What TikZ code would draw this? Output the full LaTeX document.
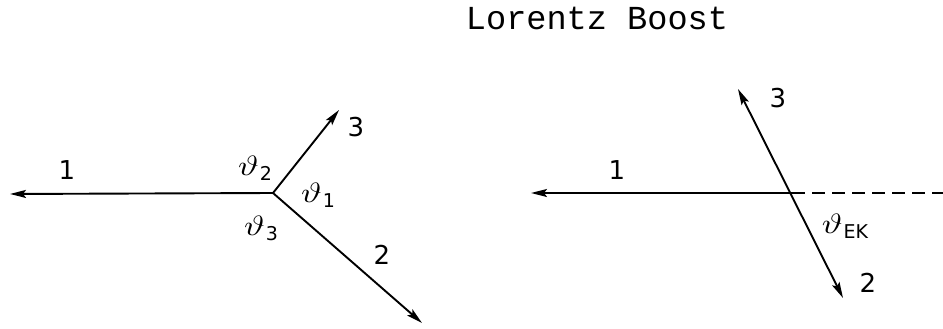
\documentclass[tikz,border=0pt]{standalone}
\usepackage{graphicx}
\usepackage{fontspec}
\setmainfont{DejaVu Sans}
\newfontfamily\titlefont{Liberation Mono}
\usetikzlibrary{arrows.meta}
\newcommand{\thlab}[1]{\scalebox{3.5}[2.8]{$\vartheta$}\kern1pt\raisebox{-5pt}{\fontsize{19}{19}\selectfont #1}}
\tikzset{
  vec/.style={line width=1.9pt,-{Stealth[length=16pt,width=8pt,inset=3pt]}},
  dvec/.style={line width=1.9pt,{Stealth[length=16pt,width=8pt,inset=3pt]}-{Stealth[length=16pt,width=8pt,inset=3pt]}},
  dashline/.style={line width=1.9pt,dash pattern=on 13pt off 7pt},
  lab/.style={font=\fontsize{26}{26}\selectfont,inner sep=0pt},
  ang/.style={inner sep=0pt}
}
\begin{document}
\begin{tikzpicture}[x=1pt,y=-1pt]
\useasboundingbox (0,0) rectangle (943,329);
% title
\node[font=\titlefont\fontsize{33.6}{34}\selectfont,inner sep=0pt] (title) at (597,18) {Lorentz Boost};
% left diagram
\coordinate (v) at (273,193);
\coordinate (t1) at (10,194);
\coordinate (t3) at (339,110);
\coordinate (t2) at (422,323);
\draw[vec] (v) -- (t1);
\draw[vec] (v) -- (t3);
\draw[vec] (v) -- (t2);
\node[lab] (l1) at (67,170) {1};
\node[lab] (l3) at (356,127) {3};
\node[lab] (l2) at (382,255) {2};
\node[ang] (a2) at (255,168) {\thlab{2}};
\node[ang] (a1) at (318,195) {\thlab{1}};
\node[ang] (a3) at (261,228) {\thlab{3}};
% right diagram
\coordinate (c) at (792,193);
\coordinate (r1) at (531,193);
\coordinate (re) at (943,193);
\coordinate (r3) at (738,89);
\coordinate (r2) at (843,298);
\draw[vec] (c) -- (r1);
\draw[dashline] (c) -- (re);
\draw[dvec] (r3) -- (r2);
\node[lab] (s1) at (617,170) {1};
\node[lab] (s3) at (778,98) {3};
\node[lab] (s2) at (868,283) {2};
\node[ang] (ek) at (845,226) {\thlab{EK}};
\end{tikzpicture}
\end{document}
